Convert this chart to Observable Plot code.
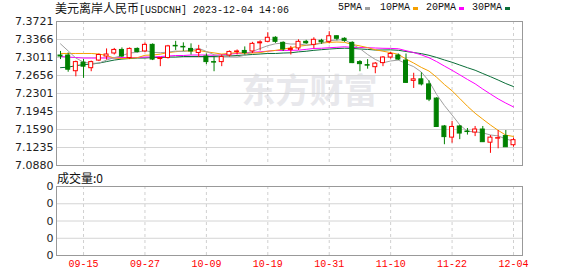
<!DOCTYPE html>
<html><head><meta charset="utf-8">
<script src="https://cdn.jsdelivr.net/npm/d3@7"></script>
<script src="https://cdn.jsdelivr.net/npm/@observablehq/plot@0.6"></script>
<style>
html,body{margin:0;padding:0;background:#fff}
body{width:578px;height:276px;overflow:hidden;position:relative;font-family:"DejaVu Sans",sans-serif}
.abs{position:absolute;white-space:nowrap;line-height:14px}
.mono{font-family:"Liberation Mono",monospace;font-size:10px}
.cjk{font-family:"Noto Sans CJK SC",sans-serif;font-size:12px}
.sw{position:absolute;width:5px;height:3px}
#c1{position:absolute;left:0;top:0}
#c2{position:absolute;left:0;top:170px}
</style></head><body>
<div id="c1"></div>
<div id="c2"></div>
<div class="abs" style="left:55px;top:1px;color:#111"><span class="cjk">美元离岸人民币</span><span class="mono">[USDCNH] 2023-12-04 14:06</span></div>
<div id="legend"></div>
<div class="abs cjk" style="left:57px;top:171px;color:#111" id="volLabel"></div>
<script>
// ---- data ----
const dates = ["09-12","09-13","09-14","09-15","09-18","09-19","09-20","09-21","09-22","09-25","09-26","09-27","09-28","09-29","10-02","10-03","10-04","10-05","10-06","10-09","10-10","10-11","10-12","10-13","10-16","10-17","10-18","10-19","10-20","10-23","10-24","10-25","10-26","10-27","10-30","10-31","11-01","11-02","11-03","11-06","11-07","11-08","11-09","11-10","11-13","11-14","11-15","11-16","11-17","11-20","11-21","11-22","11-23","11-24","11-27","11-28","11-29","11-30","12-01","12-04"];
const tickDates = ["09-15","09-27","10-09","10-19","10-31","11-10","11-22","12-04"];
const opens  = [7.305,7.305,7.274,7.291,7.280,7.295,7.303,7.309,7.316,7.300,7.318,7.313,7.326,7.298,7.300,7.324,7.322,7.318,7.310,7.303,7.292,7.292,7.305,7.312,7.314,7.313,7.329,7.332,7.340,7.330,7.316,7.319,7.332,7.326,7.334,7.332,7.343,7.338,7.330,7.292,7.286,7.282,7.290,7.301,7.305,7.295,7.255,7.258,7.248,7.220,7.165,7.143,7.165,7.155,7.153,7.159,7.133,7.141,7.146,7.128];
const highs  = [7.313,7.310,7.294,7.297,7.294,7.308,7.318,7.319,7.320,7.320,7.320,7.330,7.328,7.301,7.325,7.333,7.330,7.328,7.325,7.308,7.302,7.306,7.314,7.316,7.322,7.331,7.334,7.350,7.342,7.332,7.323,7.336,7.335,7.340,7.337,7.352,7.344,7.340,7.332,7.295,7.297,7.291,7.303,7.311,7.308,7.308,7.270,7.271,7.255,7.222,7.167,7.175,7.167,7.161,7.165,7.165,7.147,7.157,7.157,7.142];
const lows   = [7.297,7.272,7.263,7.260,7.273,7.293,7.296,7.306,7.301,7.297,7.310,7.311,7.295,7.283,7.298,7.315,7.313,7.306,7.301,7.287,7.273,7.283,7.302,7.306,7.306,7.309,7.314,7.330,7.329,7.313,7.306,7.315,7.327,7.318,7.327,7.328,7.334,7.331,7.289,7.273,7.278,7.269,7.283,7.298,7.295,7.250,7.240,7.245,7.214,7.163,7.129,7.132,7.139,7.148,7.145,7.134,7.112,7.121,7.124,7.124];
const closes = [7.303,7.277,7.292,7.283,7.292,7.306,7.307,7.316,7.303,7.318,7.312,7.326,7.297,7.300,7.323,7.323,7.321,7.313,7.316,7.292,7.291,7.302,7.312,7.313,7.310,7.328,7.331,7.340,7.332,7.317,7.318,7.332,7.329,7.336,7.331,7.343,7.338,7.334,7.290,7.288,7.285,7.289,7.301,7.308,7.297,7.251,7.258,7.248,7.218,7.164,7.144,7.164,7.151,7.154,7.159,7.134,7.143,7.142,7.124,7.138];
// moving-average values before enough history is shown
const ma5Head  = [7.328,7.314,7.300,7.292];
const ma10Head = [7.309,7.309,7.309,7.309,7.309,7.308,7.305,7.300,7.299];
const ma20Head = [7.303,7.302,7.301,7.300,7.300,7.300,7.300,7.300,7.301,7.301,7.301,7.302,7.302,7.303,7.304,7.305,7.305,7.306,7.306];
const ma30Head = [7.281,7.282,7.285,7.287,7.288,7.290,7.293,7.296,7.298,7.299,7.300,7.300,7.301,7.301,7.302,7.302,7.303,7.303,7.303,7.303,7.303,7.304,7.304,7.305,7.306,7.307,7.308,7.309,7.309];
const yTicks = [7.0880,7.1235,7.1590,7.1945,7.2301,7.2656,7.3011,7.3366,7.3721];
const volTicks = [0,1,2,3,4];
const volTickLabels = ["0","0","0","0","0"];
const volume = 0;
const maNames = ["5PMA","10PMA","20PMA","30PMA"];
const maColors = ["#a0a0a0","#f5a000","#ff00ff","#0a6e38"];

// ---- build ----
const candles = dates.map((d,i)=>({i, o:opens[i], h:highs[i], l:lows[i], c:closes[i]}));
const up = candles.filter(d=>d.c>=d.o), down = candles.filter(d=>d.c<d.o);
function ma(head, n){ return closes.map((c,i)=> i<head.length ? head[i] : d3.mean(closes.slice(i-n+1,i+1))).map((v,i)=>({i,v})); }
const maSeries = [ma(ma5Head,5), ma(ma10Head,10), ma(ma20Head,20), ma(ma30Head,30)];
const tickIdx = tickDates.map(d=>dates.indexOf(d));
const X = {domain:[-0.521, 60.172], axis:null};
const hw = 0.26;

const chart1 = Plot.plot({
  width:578, height:170, marginTop:21, marginBottom:5, marginLeft:56, marginRight:56,
  style:{fontFamily:"DejaVu Sans", fontSize:"11px", color:"#222", background:"transparent", overflow:"visible"},
  x: X,
  y: {domain:[yTicks[0], yTicks[yTicks.length-1]], ticks:yTicks, tickFormat:d=>d.toFixed(4), tickSize:0, tickPadding:3, label:null},
  marks:[
    Plot.text(["东方财富"], {text:d=>d, frameAnchor:"middle", dx:20, dy:-1, fontSize:34, fontWeight:"bold", fill:"#e8e8ec", fontFamily:"Noto Sans CJK SC"}),
    Plot.ruleY(yTicks.slice(1,-1), {stroke:"#d4d4d4"}),
    Plot.ruleX(tickIdx, {stroke:"#d0d0d0", strokeDasharray:"3,3"}),
    ...maSeries.slice().reverse().map((s,k)=>Plot.line(s, {x:"i", y:"v", stroke:maColors[3-k], strokeWidth:1})),
    Plot.ruleX(down, {x:"i", y1:"l", y2:"h", stroke:"#008000"}),
    Plot.ruleX(up, {x:"i", y1:"l", y2:"h", stroke:"#ff0000"}),
    Plot.rect(down, {x1:d=>d.i-hw, x2:d=>d.i+hw, y1:"o", y2:"c", fill:"#008000", stroke:"#008000", strokeWidth:1}),
    Plot.rect(up, {x1:d=>d.i-hw, x2:d=>d.i+hw, y1:"o", y2:"c", fill:"#ffffff", stroke:"#ff0000", strokeWidth:1}),
    Plot.frame({stroke:"#999"})
  ]
});
document.getElementById("c1").appendChild(chart1);

const chart2 = Plot.plot({
  width:578, height:106, marginTop:16, marginBottom:21, marginLeft:56, marginRight:56,
  style:{fontFamily:"DejaVu Sans", fontSize:"11px", color:"#222", background:"transparent", overflow:"visible"},
  x: X,
  y: {domain:[volTicks[0], volTicks[volTicks.length-1]], ticks:volTicks, tickFormat:(d,i)=>volTickLabels[i], tickSize:0, tickPadding:3, label:null},
  marks:[
    Plot.ruleY(volTicks.slice(1,-1), {stroke:"#d4d4d4"}),
    Plot.ruleX(tickIdx, {stroke:"#d0d0d0", strokeDasharray:"3,3"}),
    Plot.text(tickIdx, {x:d=>d, text:(d,i)=>tickDates[i], frameAnchor:"bottom", dy:11, fill:"#ff0000", fontFamily:"Liberation Mono", fontSize:10}),
    Plot.frame({stroke:"#999"})
  ]
});
document.getElementById("c2").appendChild(chart2);

document.getElementById("volLabel").textContent = "成交量:" + volume;

// legend
const textX = [338,380,426,472], swX = [365,413,459,505];
const lg = document.getElementById("legend");
maNames.forEach((n,k)=>{
  const t = document.createElement("div"); t.className="abs mono"; t.style.left=textX[k]+"px"; t.style.top="1px"; t.style.color="#111"; t.textContent=n; lg.appendChild(t);
  const s = document.createElement("div"); s.className="sw"; s.style.left=swX[k]+"px"; s.style.top="7px"; s.style.background=maColors[k]; lg.appendChild(s);
});
</script>
</body></html>
